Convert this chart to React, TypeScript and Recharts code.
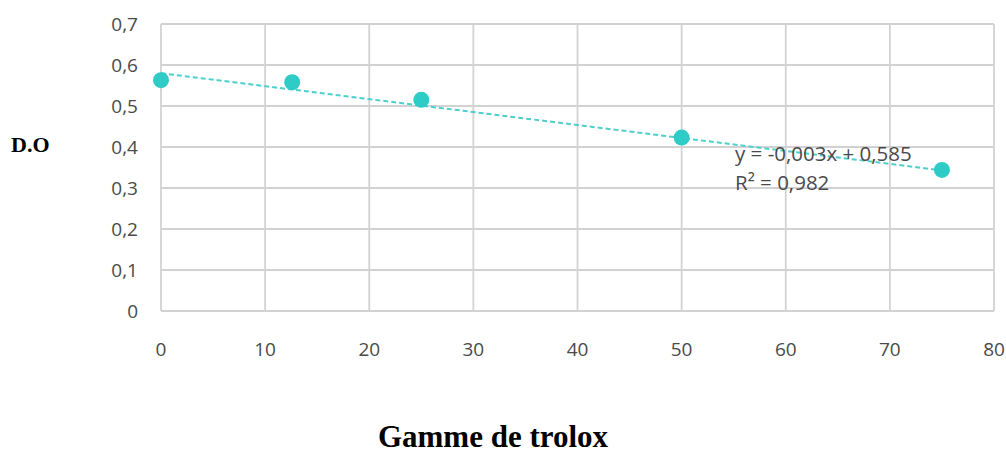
import React from 'react';
import { ComposedChart, Scatter, Line, XAxis, YAxis, CartesianGrid } from 'recharts';

const xValues = [0, 12.6, 25, 50, 75];
const yValues = [0.563, 0.558, 0.515, 0.423, 0.344];
const trendX = [0, 75];
const trendY = [0.58, 0.343];
const xTicks = [0, 10, 20, 30, 40, 50, 60, 70, 80];
const yTicks = [0, 0.1, 0.2, 0.3, 0.4, 0.5, 0.6, 0.7];
const equationText = 'y = -0,003x + 0,585';
const r2Text = 'R² = 0,982';
const yTitle = 'D.O';
const xTitle = 'Gamme de trolox';

const points = xValues.map((x, i) => ({ x, y: yValues[i] }));
const trend = trendX.map((x, i) => ({ x, y: trendY[i] }));

const fmt = (v: number) => (Math.round(v * 10) / 10).toString().replace('.', ',');

const tickStyle = { fontFamily: 'Open Sans', fontSize: 19, fill: '#4a4a4a' };

export default function App() {
  return (
    <div style={{ position: 'absolute', left: 0, top: 0, width: 1006, height: 457, background: '#fff', overflow: 'hidden' }}>
      <ComposedChart width={1006} height={457} margin={{ top: 24, right: 12, bottom: 0, left: 101 }}>
        <CartesianGrid stroke="#d2d2d2" strokeWidth={1.8} />
        <XAxis
          type="number"
          dataKey="x"
          domain={[0, 80]}
          ticks={xTicks}
          tickLine={false}
          axisLine={{ stroke: '#d2d2d2', strokeWidth: 1.8 }}
          tick={tickStyle}
          tickMargin={26}
          height={146}
          interval={0}
        />
        <YAxis
          type="number"
          dataKey="y"
          domain={[0, 0.7]}
          ticks={yTicks}
          tickLine={false}
          axisLine={false}
          tick={tickStyle}
          tickFormatter={fmt}
          tickMargin={17}
          width={60}
          interval={0}
        />
        <Line
          data={trend}
          dataKey="y"
          type="linear"
          stroke="#4fcfcc"
          strokeWidth={2}
          strokeDasharray="5 3"
          dot={false}
          activeDot={false}
          isAnimationActive={false}
        />
        <Scatter
          data={points}
          dataKey="y"
          fill="#2ecbc7"
          isAnimationActive={false}
          shape={(p: any) => <circle cx={p.cx} cy={p.cy} r={8} fill="#2ecbc7" />}
        />
      </ComposedChart>
      <div style={{ position: 'absolute', left: 735, top: 139, fontFamily: 'Open Sans', fontSize: 20.5, color: '#4a4a4a', lineHeight: '29px', whiteSpace: 'nowrap' }}>
        <div>{equationText}</div>
        <div>{r2Text}</div>
      </div>
      <div style={{ position: 'absolute', left: 11, top: 132, fontFamily: 'Liberation Serif', fontWeight: 'bold', fontSize: 22 }}>{yTitle}</div>
      <div style={{ position: 'absolute', left: 0, width: 986, textAlign: 'center', top: 420, fontFamily: 'Liberation Serif', fontWeight: 'bold', fontSize: 31, lineHeight: '34px' }}>{xTitle}</div>
    </div>
  );
}
